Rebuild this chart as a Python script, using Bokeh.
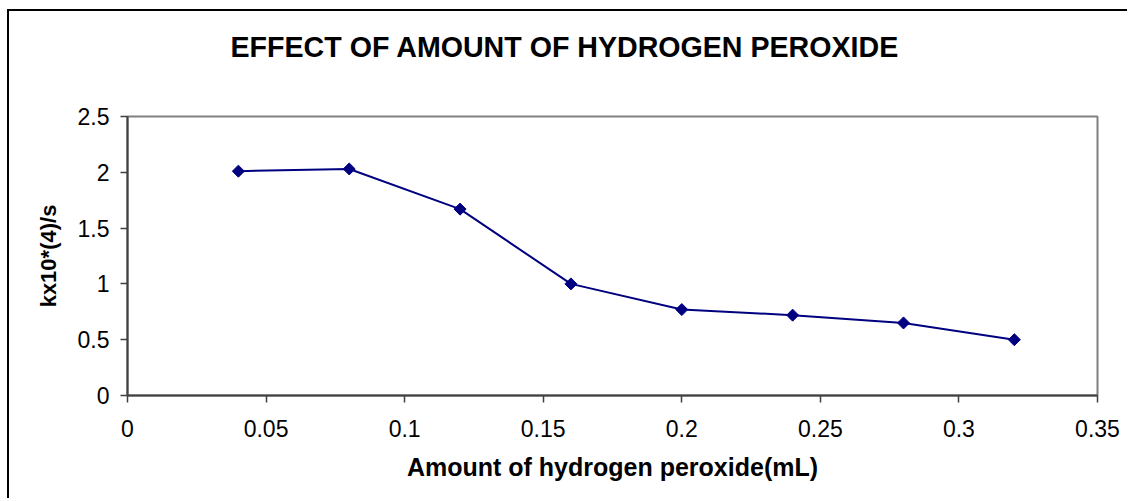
from bokeh.plotting import figure
from bokeh.models import Range1d, FixedTicker
from bokeh.embed import file_html
from bokeh.resources import INLINE
import math

amount_ml = [0.04, 0.08, 0.12, 0.16, 0.20, 0.24, 0.28, 0.32]
rate_k = [2.01, 2.03, 1.67, 1.00, 0.77, 0.72, 0.65, 0.50]
x_ticks = [0, 0.05, 0.1, 0.15, 0.2, 0.25, 0.3, 0.35]
y_ticks = [0, 0.5, 1, 1.5, 2, 2.5]
title_text = "EFFECT OF AMOUNT OF HYDROGEN PEROXIDE"
x_label = "Amount of hydrogen peroxide(mL)"
y_label = "kx10*(4)/s"

FONT = "Liberation Sans"
NAVY = "#000080"

p = figure(width=1120, height=489, output_backend="svg", toolbar_location=None,
           x_range=Range1d(0, 0.35), y_range=Range1d(0, 2.5),
           min_border_left=118, min_border_right=32, min_border_top=105, min_border_bottom=105)
p.styles = {"margin-top": "9px", "margin-left": "7px",
            "border-top": "2px solid black", "border-left": "2px solid black"}
p.background_fill_color = "white"
p.border_fill_color = "white"
p.outline_line_color = "#808080"
p.outline_line_width = 2
p.xgrid.visible = False
p.ygrid.visible = False

# trailing empty line reserves the gap between the title and the plot frame
p.title.text = title_text + "\n"
p.title.align = "left"
p.title.vertical_align = "top"
p.title.text_font = FONT
p.title.text_font_style = "bold"
p.title.text_font_size = "28.6px"
p.title.text_line_height = 1.2
p.title.text_color = "black"
p.title.standoff = 28
p.title.offset = 103

p.line(amount_ml, rate_k, line_color=NAVY, line_width=2)
p.scatter(amount_ml, rate_k, marker="square", angle=math.pi / 4, size=8.5,
          fill_color=NAVY, line_color=NAVY)

for ax in (p.xaxis[0], p.yaxis[0]):
    ax.axis_line_color = "#404040"
    ax.axis_line_width = 2
    ax.major_tick_line_color = "#404040"
    ax.major_tick_line_width = 1.5
    ax.major_tick_in = 0
    ax.major_tick_out = 7
    ax.minor_tick_line_color = None
    ax.major_label_text_font = FONT
    ax.major_label_text_font_size = "23px"
    ax.major_label_text_color = "black"
    ax.axis_label_text_font = FONT
    ax.axis_label_text_font_style = "bold"
    ax.axis_label_text_color = "black"

p.xaxis.axis_label_text_font_size = "25px"
p.yaxis.axis_label_text_font_size = "22px"
p.xaxis.ticker = FixedTicker(ticks=x_ticks)
p.yaxis.ticker = FixedTicker(ticks=y_ticks)
p.xaxis.major_label_overrides = {0: "0"}
p.yaxis.major_label_overrides = {0: "0"}
p.xaxis.major_label_standoff = 17
p.yaxis.major_label_standoff = 11
p.xaxis.axis_label = x_label
p.yaxis.axis_label = y_label
p.xaxis.axis_label_standoff = 13
p.yaxis.axis_label_standoff = 14

open("out.html", "w").write(file_html(p, INLINE))
